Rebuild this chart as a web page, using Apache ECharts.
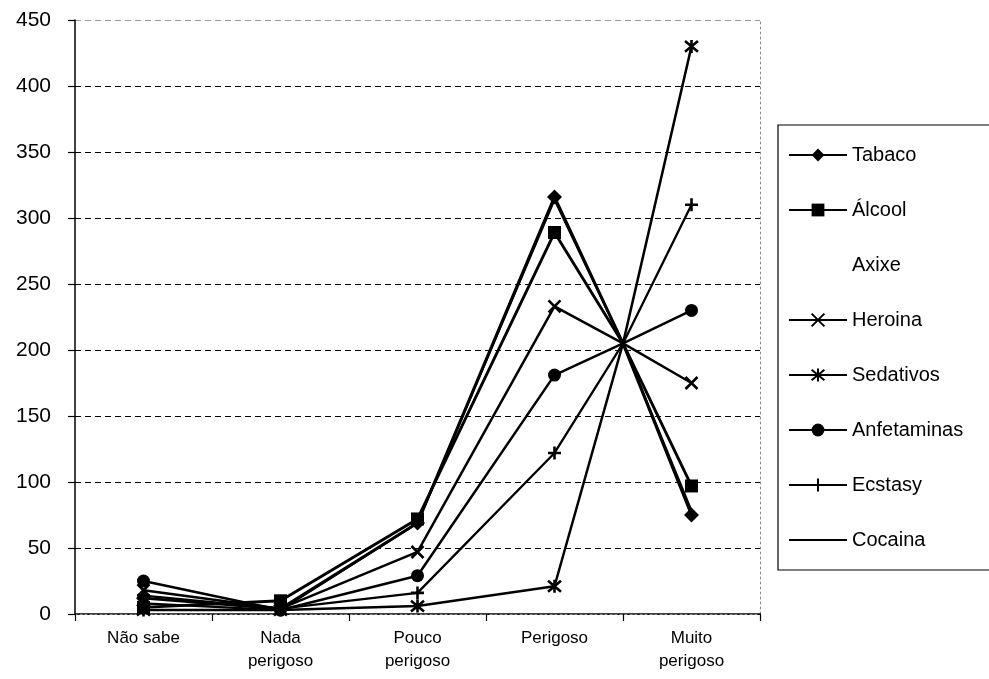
<!DOCTYPE html>
<html>
<head>
<meta charset="utf-8">
<script src="https://cdn.jsdelivr.net/npm/echarts@6/dist/echarts.min.js"></script>
<style>html,body{margin:0;padding:0;background:#fff;}#c{width:989px;height:679px;}</style>
</head>
<body>
<div id="c"></div>
<script>
var categories = ['Não sabe', 'Nada\nperigoso', 'Pouco\nperigoso', 'Perigoso', 'Muito\nperigoso'];
var yTicks = [0, 50, 100, 150, 200, 250, 300, 350, 400, 450];
// common crossing value drawn between "Perigoso" and "Muito perigoso"
var crossValue = 205;
var tabaco      = [12, 4, 69, 316, 75];
var alcool      = [5, 10, 72, 289, 97];
var axixe       = [];
var heroina     = [18, 4, 47, 233, 175];
var sedativos   = [3, 3, 6, 21, 430];
var anfetaminas = [25, 3, 29, 181, 230];
var ecstasy     = [14, 4, 16, 122, 310];
var cocaina     = [8, 3, 69, 314, 78];

function build(vals) {
  var out = [];
  for (var i = 0; i < vals.length; i++) {
    out.push([i + 0.5, vals[i]]);
    if (i === 3) out.push({ value: [4, crossValue], symbol: 'none' });
  }
  return out;
}

var X_PATH = 'path://M0,0 L10,10 M10,0 L0,10';
var AST_PATH = 'path://M0,0 L10,10 M10,0 L0,10 M5,-1 L5,11';
var PLUS_PATH = 'path://M5,0 L5,10 M0,5 L10,5';

function ser(name, vals, symbol, size, stroke, width) {
  return {
    name: name, type: 'line', xAxisIndex: 1, yAxisIndex: 0,
    data: build(vals), symbol: symbol, symbolSize: size,
    showSymbol: true,
    lineStyle: { color: '#000', width: width || 2.5 },
    itemStyle: { color: '#000', borderColor: '#000', borderWidth: stroke ? 2.6 : 0 },
    emphasis: { disabled: true },
    animation: false
  };
}

var series = [
  ser('Tabaco', tabaco, 'diamond', 15, false, 2.9),
  ser('Álcool', alcool, 'rect', 13, false, 2.9),
  { name: 'Axixe', type: 'line', xAxisIndex: 1, data: axixe, symbol: 'none',
    lineStyle: { opacity: 0 }, itemStyle: { opacity: 0 } },
  ser('Heroina', heroina, X_PATH, 12, true),
  ser('Sedativos', sedativos, AST_PATH, 13, true),
  ser('Anfetaminas', anfetaminas, 'circle', 13, false),
  ser('Ecstasy', ecstasy, PLUS_PATH, 13, true, 2.3),
  ser('Cocaina', cocaina, 'none', 1, false, 2.3)
];

var chart = echarts.init(document.getElementById('c'), null, { renderer: 'canvas' });
chart.setOption({
  animation: false,
  backgroundColor: '#fff',
  textStyle: { fontFamily: 'Liberation Sans, Arial, sans-serif', color: '#000' },
  grid: { left: 75, right: 229, top: 20, bottom: 65, containLabel: false },
  xAxis: [
    { type: 'category', data: categories, boundaryGap: true, position: 'bottom',
      axisLine: { lineStyle: { color: '#000', width: 1.5 } },
      axisTick: { show: true, alignWithLabel: false, length: 7, lineStyle: { color: '#000', width: 1.2 } },
      axisLabel: { color: '#000', fontSize: 17, lineHeight: 23, margin: 13, interval: 0,
        fontFamily: 'Liberation Sans, Arial, sans-serif' },
      splitLine: { show: false } },
    { type: 'value', min: 0, max: 5, position: 'top', show: true,
      axisLine: { show: true, lineStyle: { color: '#888', type: [2, 3], width: 1 } },
      axisTick: { show: false }, axisLabel: { show: false }, splitLine: { show: false } }
  ],
  yAxis: [
    { type: 'value', min: 0, max: 450, interval: 50, position: 'left',
      axisLine: { show: true, lineStyle: { color: '#000', width: 1.5 } },
      axisTick: { show: true, length: 7, lineStyle: { color: '#000', width: 1.2 } },
      axisLabel: { color: '#000', fontSize: 21, margin: 24,
        fontFamily: 'Liberation Sans, Arial, sans-serif',
        formatter: function (v) { return yTicks.indexOf(v) >= 0 ? String(v) : ''; } },
      splitLine: { show: true, lineStyle: { color: ['#000','#000','#000','#000','#000','#000','#000','#000','#000','#999'], type: [6, 4], width: 1.2 } } },
    { type: 'value', min: 0, max: 450, position: 'right', show: true,
      axisLine: { show: true, lineStyle: { color: '#888', type: [2, 3], width: 1 } },
      axisTick: { show: false }, axisLabel: { show: false }, splitLine: { show: false } }
  ],
  legend: {
    orient: 'vertical', left: 778, top: 125,
    padding: [20, 60, 20, 10],
    borderColor: '#000', borderWidth: 1.2,
    itemWidth: 58, itemHeight: 16, itemGap: 35,
    textStyle: { color: '#000', fontSize: 20, fontFamily: 'Liberation Sans, Arial, sans-serif' },
    data: ['Tabaco', 'Álcool',
      { name: 'Axixe', itemStyle: { opacity: 0 }, lineStyle: { opacity: 0 } },
      'Heroina', 'Sedativos', 'Anfetaminas', 'Ecstasy',
      { name: 'Cocaina', itemStyle: { opacity: 0 } }],
    selectedMode: false
  },
  series: series
});
</script>
</body>
</html>
